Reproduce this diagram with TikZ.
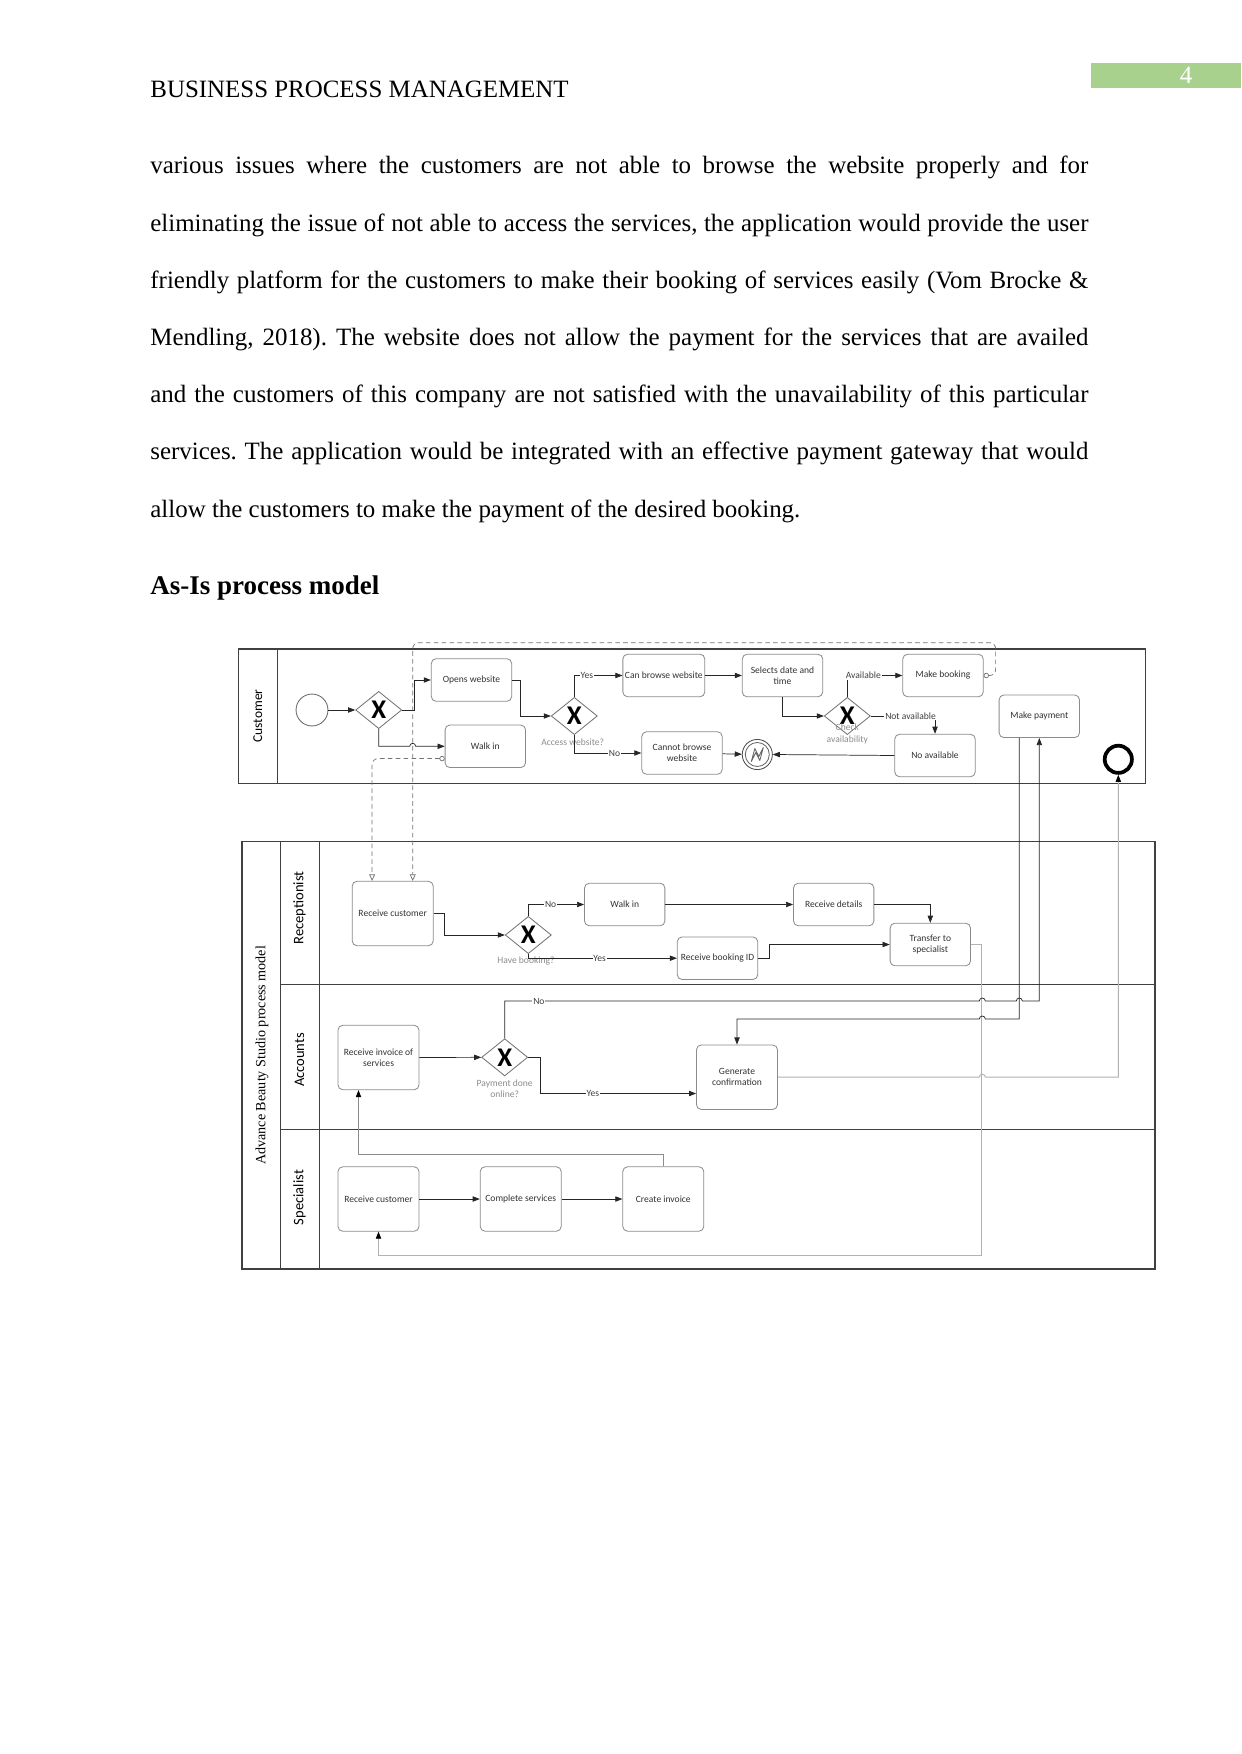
\documentclass[tikz,border=0pt]{standalone}
\usepackage{fontspec}
\setmainfont{Liberation Serif}
\newfontfamily\bpmnfont{Carlito}
\usepackage{xcolor}
\usepackage{tikz}
\usetikzlibrary{arrows.meta,positioning,shapes.geometric,calc}
\definecolor{pagegreen}{HTML}{A9D18E}
\newcommand{\tasksize}{\bpmnfont\fontsize{4.6}{5.4}\selectfont}
\newcommand{\lanesize}{\bpmnfont\fontsize{7}{8}\selectfont}
\frenchspacing

\begin{document}
\begin{tikzpicture}[
    x=0.016922cm, y=-0.016922cm,
    >={Triangle[length=1.2mm,width=0.9mm]},
    bodytext/.style={anchor=base west, inner sep=0pt, font=\fontsize{12}{14}\selectfont},
    task/.style={rounded corners=0.08cm, draw=black!45, fill=white, align=center,
      text=black!80, font=\tasksize, minimum width=1.36cm, minimum height=0.72cm,
      inner sep=1pt},
    bigtask/.style={task, minimum width=1.37cm, minimum height=1.09cm},
    gate/.style={diamond, draw=black!55, fill=white, minimum width=0.78cm,
      minimum height=0.63cm, inner sep=0pt,
      font=\bpmnfont\bfseries\fontsize{13}{13}\selectfont},
    flow/.style={->, line width=0.35pt, draw=black!85},
    softflow/.style={-{Triangle[length=1.2mm,width=0.9mm,color=black]},
      line width=0.45pt, draw=black!30},
    msg/.style={{Circle[open,length=0.9mm]}-{Triangle[open,length=1.1mm,width=1mm]},
      dash pattern=on 2.2pt off 1.6pt, line width=0.35pt, draw=black!55,
      rounded corners=0.1cm},
    flowlbl/.style={font=\tasksize, fill=white, inner sep=0.4pt, text=black!75},
    gatelbl/.style={font=\tasksize, text=black!45, align=center},
    pool/.style={draw=black!75, line width=0.55pt},
    lanetitle/.style={font=\lanesize, rotate=90}]

  % ---- page ----
  \fill[white] (0,0) rectangle (1241,1754);
  \useasboundingbox (0,0) rectangle (1241,1754);
  \node[bodytext] (header) at (150,97.8) {BUSINESS PROCESS MANAGEMENT};
  \fill[pagegreen] (1091,63) rectangle (1241,88);
  \node[text=white, font=\fontsize{12}{14}\selectfont] (pagenum) at (1186,75.5) {4};

  % ---- body text ----
  \foreach \txt [count=\i] in {
      {various issues where the customers are not able to browse the website properly and for},
      {eliminating the issue of not able to access the services, the application would provide the user},
      {friendly platform for the customers to make their booking of services easily (Vom Brocke \&},
      {Mendling, 2018). The website does not allow the payment for the services that are availed},
      {and the customers of this company are not satisfied with the unavailability of this particular},
      {services. The application would be integrated with an effective payment gateway that would}}
    \node[bodytext] (line\i) at (150,{174+57.2*(\i-1)}) {\makebox[15.873cm][s]{\txt}};
  \node[bodytext] (line7) at (150,517.2) {allow the customers to make the payment of the desired booking.};
  \node[bodytext, font=\fontsize{13}{15}\selectfont\bfseries] (title) at (150,594) {As-Is process model};

  % ---- pools and lanes ----
  \draw[pool] (238.7,649) rectangle (1145.7,783.3);
  \draw[pool] (277.7,649) -- (277.7,783.3);
  \node[lanetitle, font=\bpmnfont\fontsize{6.5}{7}\selectfont] (custlbl) at (257.7,716) {Customer};

  \draw[pool] (242,841.7) rectangle (1155,1269);
  \draw[pool] (280.3,841.7) -- (280.3,1269);
  \draw[pool] (319.3,841.7) -- (319.3,1269);
  \draw[pool] (280.3,984.3) -- (1155,984.3);
  \draw[pool] (280.3,1129.3) -- (1155,1129.3);
  \node[rotate=90, font=\fontsize{6.8}{8}\selectfont] (poollbl) at (262,1055.3)
    {Advance Beauty Studio process model};
  \node[lanetitle] (reclbl) at (299.5,908) {Receptionist};
  \node[lanetitle] (acclbl) at (299.5,1060) {Accounts};
  \node[lanetitle] (spclbl) at (299.5,1197.5) {Specialist};

  % ---- customer lane ----
  \node[circle, draw=black!60, minimum size=0.54cm, inner sep=0pt] (start) at (312,710) {};
  \node[gate] (gw1) at (378.7,710) {X};
  \node[task] (opens) at (471.5,680) {Opens website};
  \node[task] (cwalk) at (485.3,746.3) {Walk in};
  \node[gate] (gw2) at (574.3,716) {X};
  \node[task] (browse) at (663.8,675.5) {Can browse website};
  \node[task] (cannot) at (682,753) {Cannot browse\\website};
  \node[task] (sel) at (782.5,675.5) {Selects date and\\time};
  \node[gate] (gw3) at (847.3,716) {X};
  \node[task] (book) at (943,675.5) {Make booking};
  \node[task] (noav) at (935,755.5) {No available};
  \node[task] (pay) at (1039.3,716.3) {Make payment};
  \node[circle, draw=black!70, minimum size=0.51cm, inner sep=0pt] (err) at (757.3,754.5) {};
  \draw[black!60] (err.center) circle[radius=12];
  \draw[black!60, line join=round] ($(err.center)+(-6,7)$) -- ++(3.5,-13) -- ++(4,8)
    -- ++(4.5,-9) -- ++(-3.5,13) -- ++(-4,-8) -- cycle;
  \node[circle, draw=black, line width=1.8pt, minimum size=0.46cm, inner sep=0pt] (endev)
    at (1118.3,759.3) {};
  \node[gatelbl] (gw2lbl) at (572.7,742.3) {Access website?};
  \node[gatelbl] (gw3lbl) at (847.3,734) {Check\\availability};

  % ---- receptionist lane ----
  \node[bigtask] (rrcv) at (392.7,913.5) {Receive customer};
  \node[gate] (gw4) at (528.3,935) {X};
  \node[task] (rwalk) at (624.7,904.5) {Walk in};
  \node[task] (rdet) at (833.7,904.5) {Receive details};
  \node[task] (bookid) at (717.5,958.2) {Receive booking ID};
  \node[task] (trans) at (930.3,944.5) {Transfer to\\specialist};
  \node[gatelbl] (gw4lbl) at (526,961) {Have booking?};

  % ---- accounts lane ----
  \node[bigtask] (inv) at (378.5,1057.5) {Receive invoice of\\services};
  \node[gate] (gw5) at (504.7,1057.3) {X};
  \node[bigtask] (gen) at (737,1077.2) {Generate\\confirmation};
  \node[gatelbl] (gw5lbl) at (504.7,1088.8) {Payment done\\online?};

  % ---- specialist lane ----
  \node[bigtask] (srcv) at (378.5,1199) {Receive customer};
  \node[bigtask] (comp) at (520.7,1199) {Complete services};
  \node[bigtask] (cinv) at (663.3,1199) {Create invoice};

  % ---- message flows ----
  \coordinate (msgtop) at (412.7,642.7);
  \draw[msg] (book.east) -- ++(12,0) |- (msgtop) -- (msgtop |- rrcv.north);
  \draw[msg] ($(cwalk.south west)+(0,-9.4)$) -| ($(rrcv.north west)+(20.3,0)$);

  % ---- sequence flows: customer ----
  \draw[flow] (start) -- (gw1);
  \draw[flow] (gw1.east) -- ++(12.6,0) |- (opens.west);
  \draw[flow] (gw1.south) |- (409.7,746.3) arc[start angle=180, end angle=360, radius=3]
    -- (cwalk.west);
  \draw[flow] (opens.east) -- ++(8,0) |- (gw2.west);
  \draw[flow] (gw2.north) |- node[flowlbl, pos=0.63] {Yes} (browse.west);
  \draw[flow] (gw2.south) |- node[flowlbl, pos=0.8] {No} (cannot.west);
  \draw[flow] (browse) -- (sel);
  \draw[flow] (sel.south) |- (gw3.west);
  \draw[flow] (gw3.north) |- node[flowlbl, pos=0.645] {Available} (book.west);
  \draw[flow] (gw3.east) -| node[flowlbl, pos=0.31] {Not available} (noav.north);
  \draw[flow] (cannot) -- (err);
  \draw[flow] (noav.west) -- (err.east);

  % ---- sequence flows: receptionist ----
  \draw[flow] (rrcv.east) -- ++(11,0) |- (gw4.west);
  \draw[flow] (gw4.north) |- node[flowlbl, pos=0.7] {No} (rwalk.west);
  \draw[flow] (rwalk) -- (rdet);
  \draw[flow] (rdet.east) -| (trans.north);
  \draw[flow] (gw4.south) |- node[flowlbl, pos=0.74] {Yes} (bookid.west);
  \draw[flow] (bookid.east) -- ++(11.6,0) |- (trans.west);
  \coordinate (retbot) at (981.7,1255.7);
  \draw[softflow] (trans.east) -| (retbot) -| (srcv.south);

  % ---- sequence flows: accounts ----
  \draw[flow] (inv) -- (gw5);
  \coordinate (paycorner) at (1039.3,1001);
  \draw[flow] (gw5.north) |- node[flowlbl, pos=0.536] {No} (979.3,1001)
    arc[start angle=180, end angle=360, radius=3] -- (1016.3,1001)
    arc[start angle=180, end angle=360, radius=3] -- (paycorner) -- (pay.south);
  \draw[flow] ($(pay.south)+(-20,0)$) -- (1019.3,1019) -- (985.3,1019)
    arc[start angle=0, end angle=-180, radius=3] -| (gen.north);
  \draw[flow] (gw5.east) -- ++(12.3,0) |- node[flowlbl, pos=0.668] {Yes}
    ($(gen.west)+(0,16.3)$);
  \draw[softflow] (gen.east) -- (979.3,1077.2) arc[start angle=180, end angle=360, radius=3]
    -| (endev.south);

  % ---- sequence flows: specialist ----
  \draw[flow] (srcv) -- (comp);
  \draw[flow] (comp) -- (cinv);
  \draw[softflow, draw=black!45] (cinv.north) -- ++(0,-12.3) -| ($(inv.south)+(-20,0)$);
\end{tikzpicture}
\end{document}
